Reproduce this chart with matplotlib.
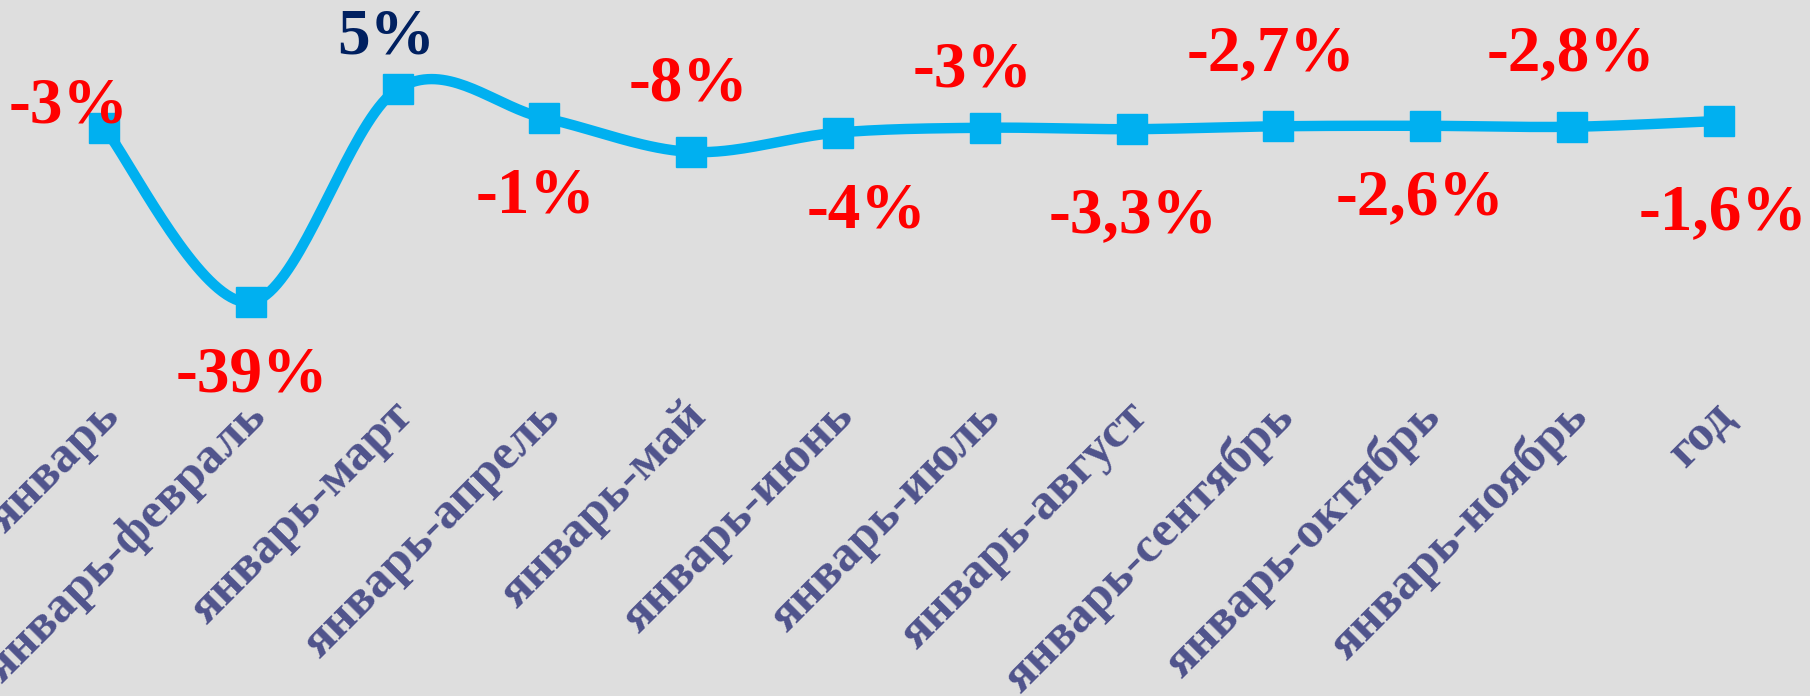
import numpy as np
import matplotlib
matplotlib.use("Agg")
import matplotlib.pyplot as plt

categories = ["январь", "январь-февраль", "январь-март", "январь-апрель", "январь-май",
              "январь-июнь", "январь-июль", "январь-август", "январь-сентябрь",
              "январь-октябрь", "январь-ноябрь", "год"]
values = [-3, -39, 5, -1, -8, -4, -3, -3.3, -2.7, -2.6, -2.8, -1.6]

# label offsets in pixels (dx, dy)
label_offsets = [(-35, 21), (1, -73), (-11, 52), (-9, -78), (-3, 67), (28, -79),
                 (-12, 57), (2, -87), (-7, 72), (-5, -72), (-1, 73), (4, -92)]

BG = "#DEDEDE"
LINE = "#00B0F0"
TICK = "#4F538C"
RED = "#FF0000"
NAVY = "#002060"
FONT = "Liberation Serif"

fig = plt.figure(figsize=(18.10, 6.96), dpi=100)
fig.patch.set_facecolor(BG)
ax = fig.add_axes([0, 0, 1, 1])
ax.set_facecolor(BG)
for s in ax.spines.values():
    s.set_visible(False)
ax.set_xticks([])
ax.set_yticks([])

x = np.arange(len(values), dtype=float)
y = np.array(values, dtype=float)

# Excel-like smoothed line (Catmull-Rom Bezier segments)
def smooth(xs, ys, n=40):
    P = np.column_stack([xs, ys])
    out = [P[0]]
    for i in range(len(P) - 1):
        p0 = P[i - 1] if i > 0 else P[i]
        p1 = P[i]
        p2 = P[i + 1]
        p3 = P[i + 2] if i + 2 < len(P) else P[i + 1]
        c1 = p1 + (p2 - p0) / 6.0
        c2 = p2 - (p3 - p1) / 6.0
        t = np.linspace(0, 1, n)[1:, None]
        seg = ((1 - t) ** 3) * p1 + 3 * ((1 - t) ** 2) * t * c1 + 3 * (1 - t) * t ** 2 * c2 + t ** 3 * p2
        out.extend(seg)
    out = np.array(out)
    return out[:, 0], out[:, 1]

sx, sy = smooth(x, y)
ax.plot(sx, sy, color=LINE, lw=7.5, solid_capstyle="round", zorder=2)
ax.plot(x, y, ls="none", marker="s", ms=21, color=LINE, zorder=3)

# axis limits to place markers
ppu_x = 146.8
ppu_y = 4.841
x0_px, v_ref, y_ref_px = 104, 5, 89
ax.set_xlim(-x0_px / ppu_x, -x0_px / ppu_x + 1810 / ppu_x)
top = v_ref + y_ref_px / ppu_y
ax.set_ylim(top - 696 / ppu_y, top)

for xi, v, (dx, dy) in zip(x, values, label_offsets):
    txt = f"{v:g}".replace(".", ",") + "%"
    ax.annotate(txt, xy=(xi, v), xytext=(dx, dy), textcoords="offset pixels",
                ha="center", va="center", fontsize=47, fontweight="bold",
                family=FONT, color=(NAVY if v > 0 else RED), zorder=4,
                annotation_clip=False)

label_top = 1 - 393 / 696
for xi, cat in zip(x, categories):
    ax.annotate(cat, xy=(xi, label_top), xycoords=("data", "axes fraction"),
                xytext=(25, 0), textcoords="offset pixels",
                rotation=45, ha="right", va="top", fontsize=36.5,
                fontweight="bold", family=FONT, color=TICK,
                annotation_clip=False)

fig.savefig("out.png", dpi=100, facecolor=BG)
